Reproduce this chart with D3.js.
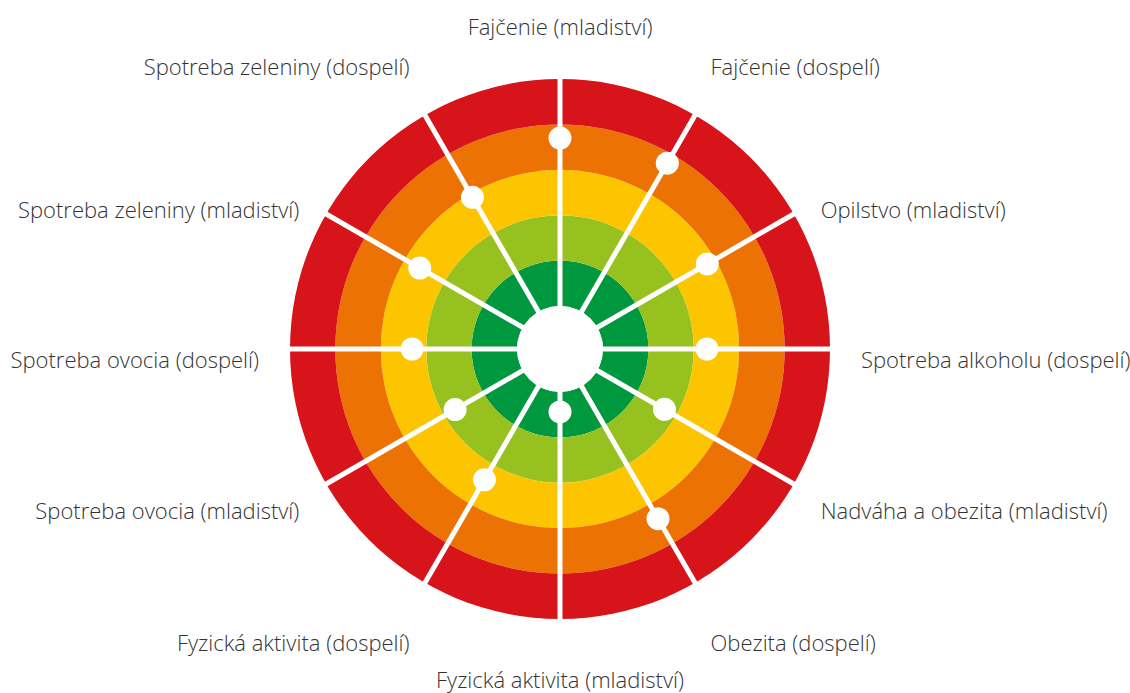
<!DOCTYPE html>
<html lang="sk">
<head>
<meta charset="UTF-8">
<title>Rizikové faktory</title>
<script src="https://d3js.org/d3.v7.min.js"></script>
<style>
  html, body { margin: 0; padding: 0; background: #fff; }
  svg text { font-family: "Open Sans", sans-serif; font-weight: 300; fill: #333; }
</style>
</head>
<body>
<svg></svg>
<script>
  // kategórie v smere hodinových ručičiek, od vrchu
  const categories = [
    "Fajčenie (mladiství)",
    "Fajčenie (dospelí)",
    "Opilstvo (mladiství)",
    "Spotreba alkoholu (dospelí)",
    "Nadváha a obezita (mladiství)",
    "Obezita (dospelí)",
    "Fyzická aktivita (mladiství)",
    "Fyzická aktivita (dospelí)",
    "Spotreba ovocia (mladiství)",
    "Spotreba ovocia (dospelí)",
    "Spotreba zeleniny (mladiství)",
    "Spotreba zeleniny (dospelí)"
  ];
  const values = [3.70, 3.78, 2.80, 2.29, 1.71, 3.37, 0.44, 2.38, 1.72, 2.31, 2.62, 2.91];
  const levels = [1, 2, 3, 4, 5];
  const levelColors = ["#00983f", "#97c11f", "#fdc400", "#ec7204", "#d7141a"];

  const width = 1130, height = 693;
  const cx = 560, cy = 349;

  const svg = d3.select("svg").attr("width", width).attr("height", height);
  const g = svg.append("g").attr("transform", `translate(${cx},${cy})`);

  const r = d3.scaleLinear().domain([0, 5]).range([43, 270]);
  const angle = d3.scaleLinear().domain([0, categories.length]).range([0, 2 * Math.PI]);

  // farebné pásma
  const arc = d3.arc()
    .innerRadius(d => r(d - 1))
    .outerRadius(d => r(d))
    .startAngle(0)
    .endAngle(2 * Math.PI);

  g.selectAll("path.band")
    .data(levels)
    .join("path")
    .attr("class", "band")
    .attr("d", arc)
    .attr("fill", (d, i) => levelColors[i]);

  g.append("circle").attr("r", r(0)).attr("fill", "#fff");

  // lúče
  g.selectAll("line.spoke")
    .data(categories)
    .join("line")
    .attr("class", "spoke")
    .attr("x1", 0).attr("y1", 0)
    .attr("x2", (d, i) => Math.sin(angle(i)) * (r(5) + 2))
    .attr("y2", (d, i) => -Math.cos(angle(i)) * (r(5) + 2))
    .attr("stroke", "#fff")
    .attr("stroke-width", 5);

  // body
  g.selectAll("circle.dot")
    .data(values)
    .join("circle")
    .attr("class", "dot")
    .attr("cx", (d, i) => Math.sin(angle(i)) * r(d))
    .attr("cy", (d, i) => -Math.cos(angle(i)) * r(d))
    .attr("r", 11.5)
    .attr("fill", "#fff");

  // popisky
  const labelR = 301;
  g.selectAll("text.label")
    .data(categories)
    .join("text")
    .attr("class", "label")
    .attr("x", (d, i) => Math.sin(angle(i)) * labelR)
    .attr("y", (d, i) => {
      const c = Math.cos(angle(i));
      let shift = Math.abs(c) > 0.7 ? -Math.sign(c) * 27 : 5;
      if (c < -0.99) shift -= 3;
      return -c * labelR + 5 + shift;
    })
    .attr("dominant-baseline", "central")
    .attr("text-anchor", (d, i) => {
      const s = Math.sin(angle(i));
      return s > 0.1 ? "start" : s < -0.1 ? "end" : "middle";
    })
    .style("font-size", "22px")
    .text(d => d);
</script>
</body>
</html>
